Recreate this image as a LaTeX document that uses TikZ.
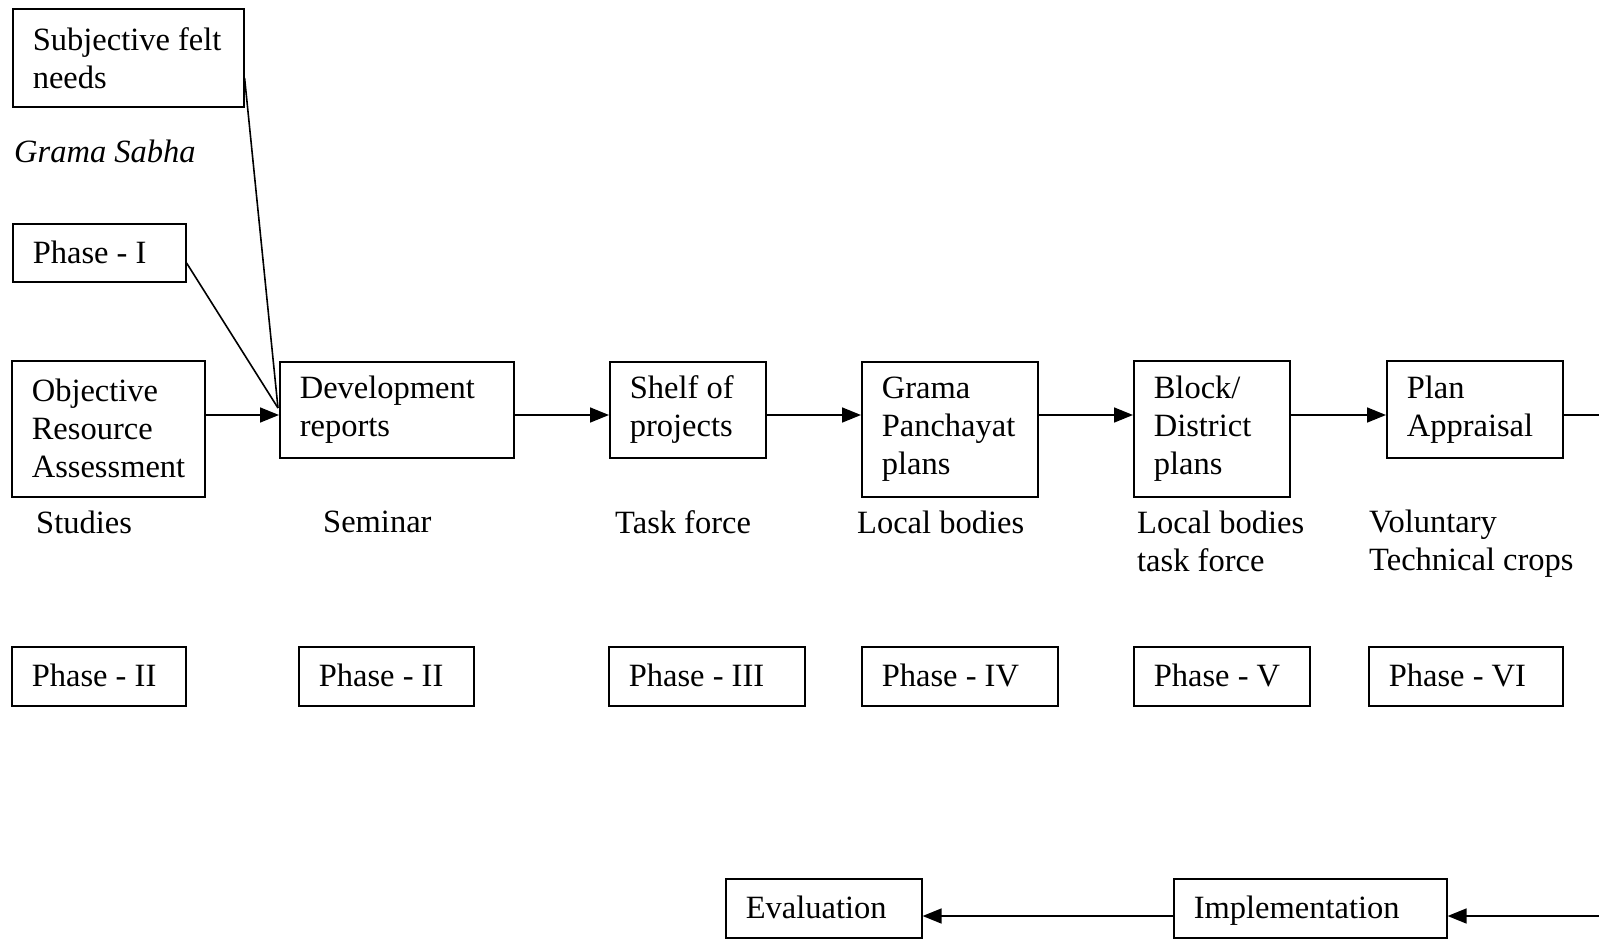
\documentclass[tikz,border=0pt]{standalone}
\usepackage{fontspec}
\setmainfont{Liberation Serif}
\usetikzlibrary{arrows.meta,calc}
\tikzset{
  every node/.style={font=\fontsize{32.5}{38}\selectfont},
  box/.style={draw, line width=1.6pt, inner xsep=20pt, inner ysep=0pt, align=flush left, anchor=north west},
  one/.style={text height=22pt, text depth=1pt},
  lbl/.style={inner sep=0pt, align=left, anchor=west},
  conn/.style={line width=1.6pt},
  arr/.style={line width=1.6pt, -{Triangle[length=19pt,width=15pt]}},
}
\begin{document}
\begin{tikzpicture}[x=1pt,y=-1pt]
\useasboundingbox (0,0) rectangle (1599,942);
% top boxes
\node[box, text width=191pt, minimum height=98pt] (subj) at (12,8) {Subjective felt\\needs};
\node[lbl, font=\fontsize{32.5}{38}\selectfont\itshape] (gs) at (14,151) {Grama Sabha};
\node[box, one, text width=133pt, minimum height=58pt] (ph1) at (12,223) {Phase - I};
% main row
\node[box, text width=153pt, minimum height=136pt] (ora) at (11,360) {Objective\\Resource\\Assessment};
\node[box, text width=194pt, minimum height=96pt] (dev) at (279,361) {Development\\reports};
\node[box, text width=116pt, minimum height=96pt] (shelf) at (609,361) {Shelf of\\projects};
\node[box, text width=136pt, minimum height=135pt] (gpp) at (861,361) {Grama\\Panchayat\\plans};
\node[box, text width=116pt, minimum height=136pt] (bdp) at (1133,360) {Block/\\District\\plans};
\node[box, text width=136pt, minimum height=97pt] (pa) at (1386,360) {Plan\\Appraisal};
% labels
\node[lbl] (l1) at (36,522) {Studies};
\node[lbl] (l2) at (323,522) {Seminar};
\node[lbl] (l3) at (615,522) {Task force};
\node[lbl] (l4) at (857,522) {Local bodies};
\node[lbl] (l5) at (1137,541) {Local bodies\\task force};
\node[lbl] (l6) at (1369,544) {Voluntary\\Technical crops};
% phase boxes
\node[box, one, text width=134pt, minimum height=59pt] (p2a) at (11,646) {Phase - II};
\node[box, one, text width=135pt, minimum height=59pt] (p2b) at (298,646) {Phase - II};
\node[box, one, text width=156pt, minimum height=59pt] (p3) at (608,646) {Phase - III};
\node[box, one, text width=156pt, minimum height=59pt] (p4) at (861,646) {Phase - IV};
\node[box, one, text width=136pt, minimum height=59pt] (p5) at (1133,646) {Phase - V};
\node[box, one, text width=154pt, minimum height=59pt] (p6) at (1368,646) {Phase - VI};
% bottom
\node[box, one, text width=156pt, minimum height=59pt] (eval) at (725,878) {Evaluation};
\node[box, one, text width=233pt, minimum height=59pt] (impl) at (1173,878) {Implementation};
% coordinates
\coordinate (lvl) at (0,415);
\coordinate (conv) at (278,408);
\coordinate (rout) at (1599,415);
\coordinate (rin) at (1599,916);
\coordinate (blvl) at (0,916);
% connectors
\draw[conn] (subj.east |- 0,78) -- (conv);
\draw[conn] (ph1.east |- 0,263) -- (conv);
\draw[arr] (ora.east |- lvl) -- (dev.west |- lvl);
\draw[arr] (dev.east |- lvl) -- (shelf.west |- lvl);
\draw[arr] (shelf.east |- lvl) -- (gpp.west |- lvl);
\draw[arr] (gpp.east |- lvl) -- (bdp.west |- lvl);
\draw[arr] (bdp.east |- lvl) -- (pa.west |- lvl);
\draw[conn] (pa.east |- lvl) -- (rout);
\draw[arr] (rin) -- (impl.east |- blvl);
\draw[arr] (impl.west |- blvl) -- (eval.east |- blvl);
\end{tikzpicture}
\end{document}
